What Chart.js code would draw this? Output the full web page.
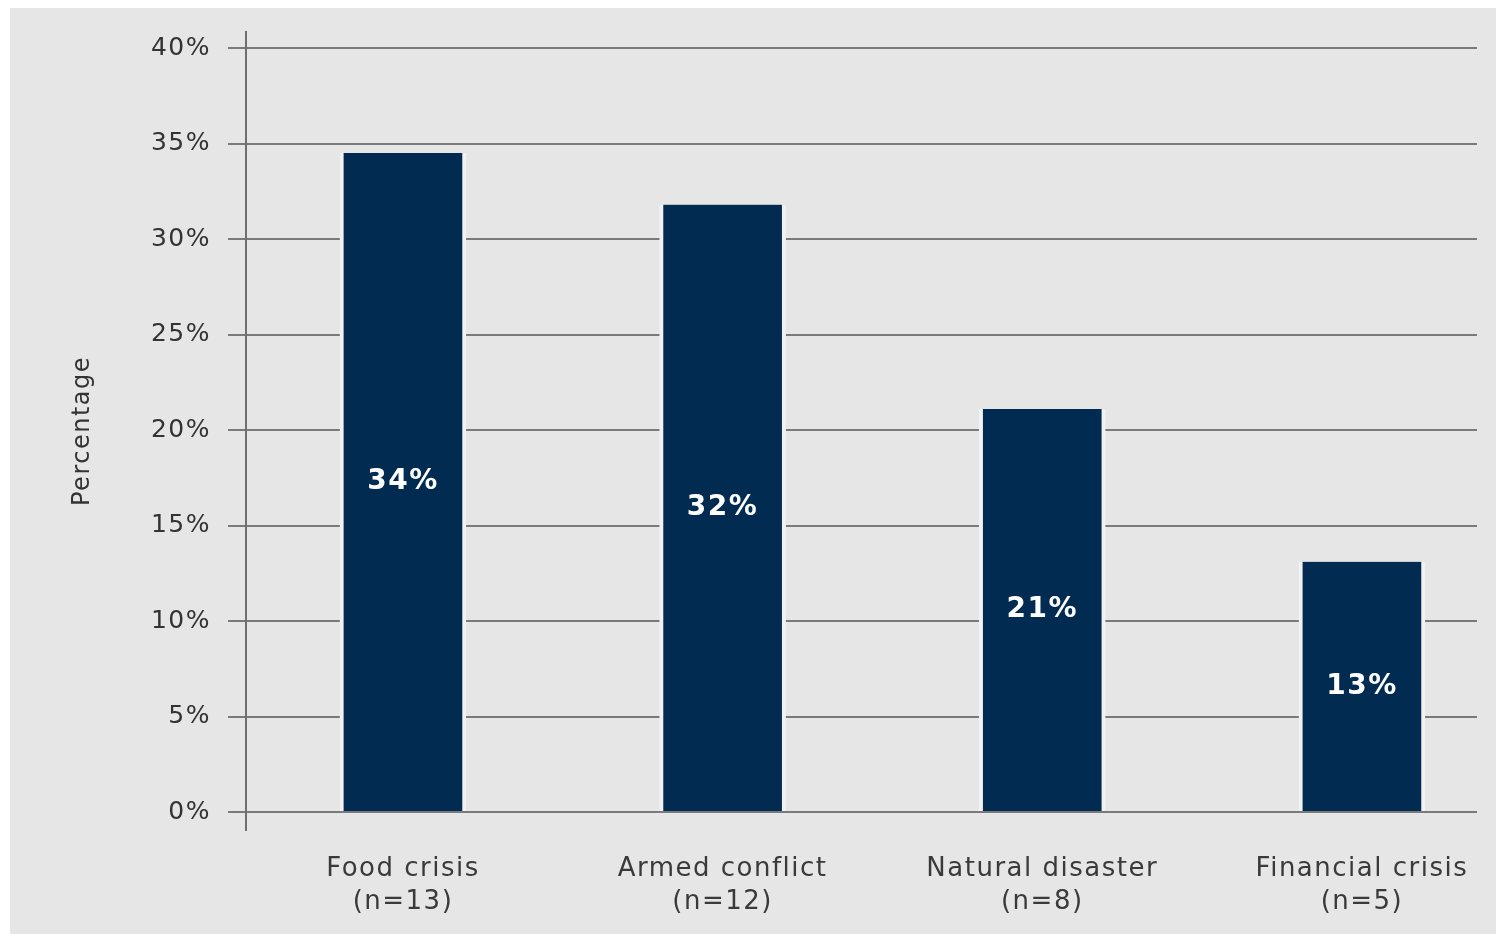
<!DOCTYPE html>
<html>
<head>
<meta charset="utf-8">
<script src="https://cdn.jsdelivr.net/npm/chart.js@4"></script>
<style>
  html, body { margin: 0; padding: 0; background: #fff; }
  #wrap { position: absolute; left: 10px; top: 8px; width: 1486px; height: 926px; background: #e6e6e6; }
</style>
</head>
<body>
<div id="wrap"><canvas id="bar-chart"></canvas></div>
<script>
const categories = [['Food crisis', '(n=13)'], ['Armed conflict', '(n=12)'], ['Natural disaster', '(n=8)'], ['Financial crisis', '(n=5)']];
const shares = [34.5, 31.8, 21.1, 13.1];
const shareLabels = ['34%', '32%', '21%', '13%'];
const yTicks = [0, 5, 10, 15, 20, 25, 30, 35, 40];

const FONT = "'DejaVu Sans', Verdana, sans-serif";

// ref text looks a bit wider than DejaVu, add some spacing
const spacing = {
  id: 'spacing',
  beforeUpdate(chart) { chart.ctx.letterSpacing = '1.5px'; },
  beforeDraw(chart) { chart.ctx.letterSpacing = '1.5px'; },
};

// white value labels in the middle of each bar
const barLabels = {
  id: 'barLabels',
  afterDatasetsDraw(chart) {
    const ctx = chart.ctx;
    const meta = chart.getDatasetMeta(0);
    ctx.save();
    ctx.letterSpacing = '1.5px';
    ctx.font = 'bold 28px ' + FONT;
    ctx.fillStyle = '#ffffff';
    ctx.textAlign = 'center';
    ctx.textBaseline = 'middle';
    meta.data.forEach((bar, i) => {
      ctx.fillText(shareLabels[i], bar.x, (bar.y + bar.base) / 2);
    });
    ctx.restore();
  },
};

new Chart(document.getElementById('bar-chart'), {
  type: 'bar',
  data: {
    datasets: [
      {
        data: shares.map((v, i) => ({ x: i, y: v })),
        backgroundColor: '#012b51',
        borderColor: '#f2f2f2',
        borderWidth: { left: 4, right: 4, top: 0, bottom: 0 },
        borderSkipped: false,
        barThickness: 126,
      },
    ],
  },
  options: {
    responsive: true,
    maintainAspectRatio: false,
    animation: false,
    layout: { padding: { top: 24, right: 19, left: 0, bottom: 0 } },
    plugins: {
      legend: { display: false },
      tooltip: { enabled: false },
    },
    scales: {
      x: {
        type: 'linear',
        offset: false,
        min: -0.491,
        max: 3.36,
        bounds: 'data',
        grid: { display: false, offset: false },
        border: { display: false },
        ticks: {
          stepSize: 1,
          includeBounds: false,
          autoSkip: false,
          maxRotation: 0,
          padding: 15,
          color: '#3a3a3a',
          font: { family: FONT, size: 26, lineHeight: 1.25 },
          callback: (v) => categories[v],
        },
        afterBuildTicks(scale) { scale.ticks = categories.map((c, i) => ({ value: i })); },
        afterFit(scale) {
          scale.height = 104;
          scale.paddingLeft = 0;
          scale.paddingRight = 0;
        },
      },
      y: {
        min: -0.94,
        max: 40.84,
        bounds: 'data',
        grid: { color: '#7a7a7a', lineWidth: 2, tickLength: 18, tickColor: '#7a7a7a' },
        border: { display: true, color: '#6f6f6f', width: 2 },
        afterBuildTicks(scale) { scale.ticks = yTicks.map((v) => ({ value: v })); },
        ticks: {
          padding: 17,
          color: '#333333',
          font: { family: FONT, size: 25 },
          callback: (v) => v + '%',
        },
        title: {
          display: true,
          text: 'Percentage',
          color: '#333333',
          font: { family: FONT, size: 24 },
          padding: { top: 58, bottom: 0 },
        },
        afterFit(scale) {
          scale.width = 236;
          scale.paddingTop = 0;
          scale.paddingBottom = 0;
        },
      },
    },
  },
  plugins: [spacing, barLabels],
});
</script>
</body>
</html>
